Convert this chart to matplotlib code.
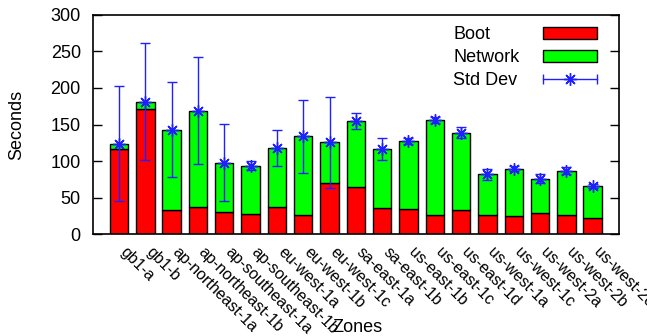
import numpy as np
import matplotlib
matplotlib.use('Agg')
import matplotlib.pyplot as plt
from matplotlib.lines import Line2D
from matplotlib.patches import Patch
from matplotlib.legend_handler import HandlerLine2D, HandlerTuple
import matplotlib.transforms as mtransforms

zones = ['gb1-a', 'gb1-b', 'ap-northeast-1a', 'ap-northeast-1b', 'ap-southeast-1a',
         'ap-southeast-1b', 'eu-west-1a', 'eu-west-1b', 'eu-west-1c', 'sa-east-1a',
         'sa-east-1b', 'us-east-1b', 'us-east-1c', 'us-east-1d', 'us-west-1a',
         'us-west-1c', 'us-west-2a', 'us-west-2b', 'us-west-2c']
boot = [117, 171, 34, 38, 31, 28, 38, 27, 70, 65, 36, 35, 27, 34, 27, 25, 29, 27, 22]
network = [7, 10, 109, 131, 67, 66, 80, 107, 56, 90, 81, 93, 129, 105, 55, 65, 47, 60, 44]
stddev = [78, 80, 65, 73, 53, 6, 24, 50, 62, 11, 15, 4, 4, 7, 8, 3, 6, 5, 3]

plt.rcParams['font.family'] = ['Liberation Sans', 'DejaVu Sans']
fs = 13

fig = plt.figure(figsize=(6.47, 3.36), dpi=100)
ax = fig.add_axes([0.1433, 0.3021, 0.8134, 0.6547])

x = np.arange(len(zones))
total = np.array(boot) + np.array(network)
star = (8, 2, 0)

ax.bar(x, boot, width=0.7, color='#ff0000', edgecolor='black', linewidth=1, zorder=2)
ax.bar(x, network, bottom=boot, width=0.7, color='#00ff00', edgecolor='black', linewidth=1, zorder=2)
ax.errorbar(x, total, yerr=stddev, fmt='none', ecolor='#1f1fff', elinewidth=1,
            capsize=3.5, capthick=1, zorder=3)
ax.plot(x, total, ls='none', marker=star, ms=9, mec='#1f1fff', mew=1, zorder=4)

ax.set_xlim(-1, len(zones))
ax.set_ylim(0, 300)
ax.set_yticks([0, 50, 100, 150, 200, 250, 300])
ax.set_xticks(x)
ax.set_xticklabels(zones, rotation=-45, ha='left', va='baseline', rotation_mode='anchor', fontsize=11.5)
off = mtransforms.ScaledTranslation(-0.055, 0, fig.dpi_scale_trans)
for lab in ax.get_xticklabels():
    lab.set_transform(lab.get_transform() + off)

ax.tick_params(axis='y', direction='in', length=6.5, width=1, right=True, labelsize=fs, pad=8.6)
ax.tick_params(axis='x', length=0, pad=13)
for s in ax.spines.values():
    s.set_linewidth(1.2)

ax.set_ylabel('Seconds', fontsize=fs)
ax.yaxis.set_label_coords(-0.129, 0.5)
ax.set_xlabel('Zones', fontsize=fs)
ax.xaxis.set_label_coords(0.503, -0.385)

# legend: text left aligned, keys to the right (two legends to get gnuplot look)
blank = Line2D([], [], ls='none')
leg1 = ax.legend([blank, blank, blank], ['Boot', 'Network', 'Std Dev'],
                 loc='upper left', bbox_to_anchor=(0.7007, 0.922), bbox_transform=fig.transFigure,
                 frameon=False, fontsize=fs, handlelength=0, handletextpad=0,
                 borderpad=0, borderaxespad=0, labelspacing=0.33)
ax.add_artist(leg1)

h_boot = Patch(facecolor='#ff0000', edgecolor='black', linewidth=1)
h_net = Patch(facecolor='#00ff00', edgecolor='black', linewidth=1)
h_caps = Line2D([], [], color='#1f1fff', lw=1, marker='|', ms=7, mew=1)
h_star = Line2D([], [], ls='none', marker=star, ms=9, mec='#1f1fff', mew=1)
ax.legend([h_boot, h_net, (h_caps, h_star)], ['', '', ''],
          handler_map={h_caps: HandlerLine2D(numpoints=2, marker_pad=0),
                       h_star: HandlerLine2D(numpoints=1),
                       tuple: HandlerTuple(ndivide=1)},
          loc='upper right', bbox_to_anchor=(0.9227, 0.922), bbox_transform=fig.transFigure,
          frameon=False, fontsize=fs, handlelength=3.0, handletextpad=0,
          borderpad=0, borderaxespad=0, labelspacing=0.33)

plt.savefig('out.png', dpi=100)
plt.close()
